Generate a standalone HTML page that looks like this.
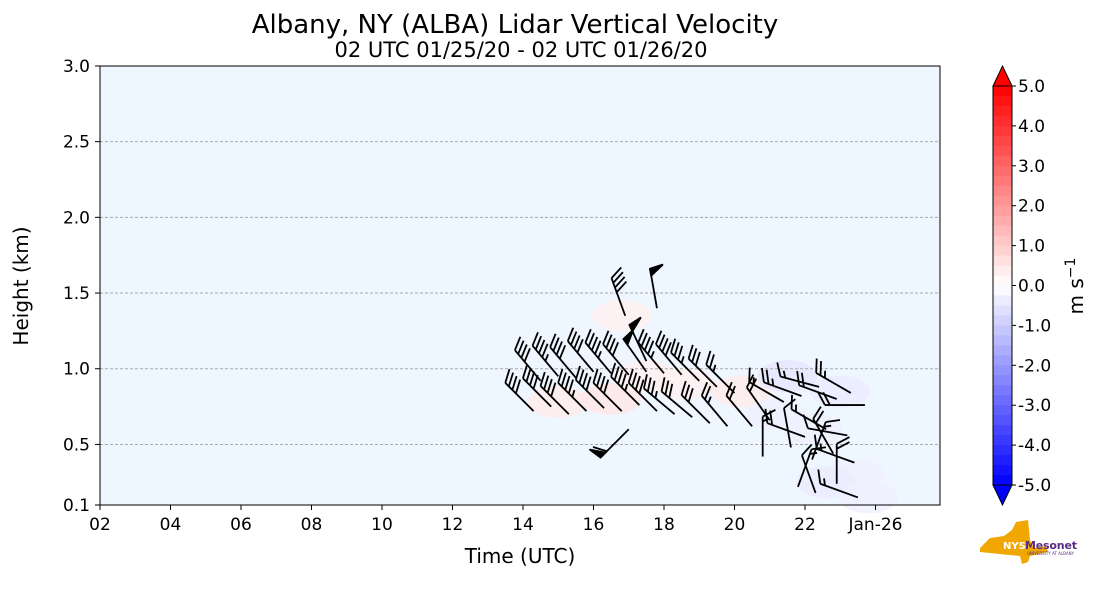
<!DOCTYPE html>
<html><head><meta charset="utf-8">
<style>
body{margin:0;background:#fff;width:1101px;height:600px;overflow:hidden;font-family:"Liberation Sans","DejaVu Sans",sans-serif;}
svg text{font-family:"DejaVu Sans","Liberation Sans",sans-serif;}
</style></head>
<body>
<svg id="chart" width="1101" height="600" viewBox="0 0 1101 600" xmlns="http://www.w3.org/2000/svg">
<text x="515" y="33" font-size="26" text-anchor="middle" fill="#000">Albany, NY (ALBA) Lidar Vertical Velocity</text>
<text x="521" y="57" font-size="21" text-anchor="middle" fill="#000">02 UTC 01/25/20 - 02 UTC 01/26/20</text>
<rect x="100" y="66" width="840" height="439" fill="#eef6ff"/>
<g id="patches"></g>
<g id="grid"></g>
<g id="barbs"></g>
<rect x="100" y="66" width="840" height="439" fill="none" stroke="#000" stroke-width="1"/>
<g id="axes"></g>
<text transform="translate(28,286) rotate(-90)" font-size="20" text-anchor="middle">Height (km)</text>
<text x="520" y="563" font-size="20" text-anchor="middle">Time (UTC)</text>
<g id="cbar"></g>
<text transform="translate(1083,286) rotate(-90)" font-size="20" text-anchor="middle">m s<tspan dy="-8" font-size="14">−1</tspan></text>
<g>
<polygon points="980,548 990,538 1004,536 1012,530 1016,522 1028,520 1030,540 1034,548 1046,546 1048,552 1030,556 1028,562 1022,564 1020,556 980,552" fill="#f0a800"/>
<text x="1003" y="549" font-size="10" font-weight="bold" fill="#fff" font-family="Liberation Sans Narrow,Liberation Sans,sans-serif">NYS</text>
<text x="1025" y="549" font-size="11" font-weight="bold" fill="#5b2d82" font-family="Liberation Sans Narrow,Liberation Sans,sans-serif" textLength="52">Mesonet</text>
<text x="1027" y="555" font-size="4" fill="#5b2d82">UNIVERSITY AT ALBANY</text>
</g>
</svg>
<script>
// ---- data ----
const xTickLabels=["02","04","06","08","10","12","14","16","18","20","22","Jan-26"];
const xTickHours=[2,4,6,8,10,12,14,16,18,20,22,24];
const yTickValues=[0.1,0.5,1.0,1.5,2.0,2.5,3.0];
const yTickLabels=["0.1","0.5","1.0","1.5","2.0","2.5","3.0"];
const cbarTicks=[5,4,3,2,1,0,-1,-2,-3,-4,-5];
const barbTimes=[14.3,14.8,15.3,15.8,16.3,16.8,17.3,17.8,18.3,18.8,19.3,19.8,
 14.5,15.0,15.5,16.0,16.5,17.0,17.5,18.0,18.5,19.0,19.5,20.0,
 16.9,17.8,17.0,17.5,
 20.5,21.0,21.4,21.9,22.4,22.9,23.3,23.7,
 20.8,21.6,22.2,22.8,23.4,
 21.8,22.3,22.9,23.5,
 22.0,22.6,23.2];
const barbHeights=[0.72,0.75,0.70,0.72,0.74,0.72,0.76,0.72,0.70,0.68,0.64,0.62,
 0.92,0.95,0.94,0.98,0.97,0.96,0.98,0.97,0.96,0.92,0.88,0.84,
 1.35,1.40,0.60,1.05,
 0.62,0.66,0.78,0.82,0.88,0.80,0.84,0.76,
 0.42,0.48,0.40,0.44,0.38,
 0.22,0.18,0.24,0.15,
 0.55,0.60,0.56];
const barbDirs=[315,315,315,315,315,315,315,315,310,310,315,320,
 320,320,320,320,320,320,325,320,320,315,315,315,
 340,350,225,335,
 320,325,300,290,285,290,300,270,
 0,350,20,330,290,
 20,340,0,290,
 290,300,280];
const barbSpeeds=[40,40,40,45,40,40,45,40,35,30,30,25,
 40,45,40,40,45,40,50,45,40,35,30,25,
 40,50,60,50,
 20,20,15,25,15,20,25,20,
 15,10,15,20,15,
 15,10,20,15,
 20,15,10];
// field patches: time, height, value (m/s)
const fieldTimes=[15.0,16.5,17.5,18.6,20.2,21.2,22.2,23.0,23.4,22.6,21.5,23.8,16.8];
const fieldHeights=[0.78,0.80,0.95,0.90,0.85,0.70,0.60,0.85,0.30,0.25,0.95,0.15,1.35];
const fieldValues=[0.4,0.5,0.3,0.3,0.4,-0.3,-0.3,-0.4,-0.3,-0.4,-0.5,-0.3,0.3];

// ---- scales ----
const X=t=>100+(t-2)*35.25;
const Y=h=>505-(h-0.1)*151.4;
const NS="http://www.w3.org/2000/svg";
function mk(tag,attrs,parent){const e=document.createElementNS(NS,tag);for(const k in attrs)e.setAttribute(k,attrs[k]);parent.appendChild(e);return e;}
function col(v){const a=Math.min(1,Math.abs(v)/5);const c=Math.round(255*(1-a));return v>=0?`rgb(255,${c},${c})`:`rgb(${c},${c},255)`;}

const patches=document.getElementById('patches');
fieldTimes.forEach((t,i)=>{
 const e=mk('ellipse',{cx:X(t),cy:Y(fieldHeights[i]),rx:30,ry:16,fill:col(fieldValues[i]),opacity:0.8},patches);
 
 
});

const grid=document.getElementById('grid');
yTickValues.forEach(v=>{if(v<=0.1||v>=3.0)return;
 const l=mk('line',{x1:100,x2:940,y1:Y(v),y2:Y(v),stroke:'#aaa','stroke-dasharray':'3,2','stroke-width':1},grid);
 
 
});

const axes=document.getElementById('axes');
xTickHours.forEach((h,i)=>{
 const x=X(h);
 mk('line',{x1:x,x2:x,y1:505,y2:510,stroke:'#000'},axes);
 const t=mk('text',{x:x,y:530,'font-size':17,'text-anchor':'middle'},axes);t.textContent=xTickLabels[i];
 
 
});
yTickValues.forEach((v,i)=>{
 const y=Y(v);
 mk('line',{x1:95,x2:100,y1:y,y2:y,stroke:'#000'},axes);
 const t=mk('text',{x:90,y:y+6,'font-size':17,'text-anchor':'end'},axes);t.textContent=yTickLabels[i];
 
 
});

// ---- barbs ----
const barbs=document.getElementById('barbs');
barbTimes.forEach((t,i)=>{
 const bx=X(t),by=Y(barbHeights[i]);
 const th=barbDirs[i]*Math.PI/180;
 const dx=Math.sin(th),dy=-Math.cos(th);
 const px=-dy,py=dx;
 const L=40;
 const g=mk('g',{stroke:'#000','stroke-width':1.8,fill:'#000'},barbs);
 
 
 const tx=bx+L*dx,ty=by+L*dy;
 mk('line',{x1:bx,y1:by,x2:tx,y2:ty},g);
 let s=barbSpeeds[i],pos=0;
 const bl=15;
 while(s>=50){const ax=tx-dx*pos,ay=ty-dy*pos;
  mk('polygon',{points:`${ax},${ay} ${ax+px*bl*0.9+dx*2},${ay+py*bl*0.9+dy*2} ${ax-dx*7},${ay-dy*7}`},g);pos+=9;s-=50;}
 while(s>=10){const ax=tx-dx*pos,ay=ty-dy*pos;
  mk('line',{x1:ax,y1:ay,x2:ax+(px*0.85+dx*0.45)*bl,y2:ay+(py*0.85+dy*0.45)*bl},g);pos+=5;s-=10;}
 if(s>=5){const ax=tx-dx*pos,ay=ty-dy*pos;
  mk('line',{x1:ax,y1:ay,x2:ax+(px*0.85+dx*0.45)*bl/2,y2:ay+(py*0.85+dy*0.45)*bl/2},g);}
});

// ---- colorbar ----
const cb=document.getElementById('cbar');
const cx=993,cw=19,ctop=86,cbot=485;
const CY=v=>ctop+(5-v)*(cbot-ctop)/10;
for(let k=0;k<40;k++){
 const v1=5-k*0.25,v2=v1-0.25;
 const r=mk('rect',{x:cx,y:CY(v1),width:cw,height:CY(v2)-CY(v1)+0.6,fill:col((v1+v2)/2)},cb);
 
 
}
mk('polygon',{points:`${cx},${ctop} ${cx+cw/2},66 ${cx+cw},${ctop}`,fill:'#ff0000',stroke:'#000','stroke-width':1},cb);
mk('polygon',{points:`${cx},${cbot} ${cx+cw/2},505 ${cx+cw},${cbot}`,fill:'#0000ff',stroke:'#000','stroke-width':1},cb);
mk('rect',{x:cx,y:ctop,width:cw,height:cbot-ctop,fill:'none',stroke:'#000','stroke-width':1},cb);
cbarTicks.forEach(v=>{
 const y=CY(v);
 mk('line',{x1:cx+cw,x2:cx+cw+4,y1:y,y2:y,stroke:'#000'},cb);
 const t=mk('text',{x:cx+cw+6,y:y+6,'font-size':17},cb);t.textContent=v.toFixed(1);
 
 
});
</script>
</body></html>
